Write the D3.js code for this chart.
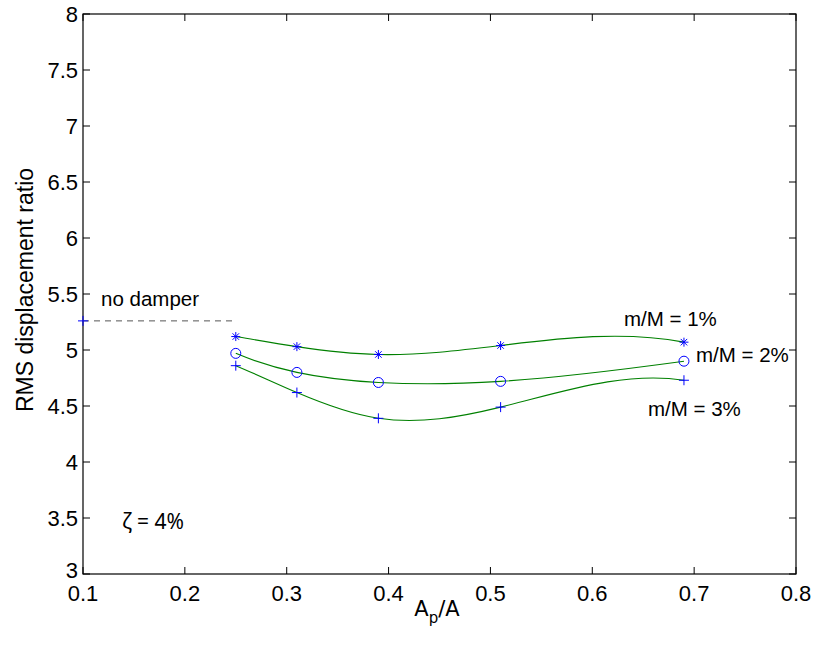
<!DOCTYPE html>
<html>
<head>
<meta charset="utf-8">
<script src="https://cdn.jsdelivr.net/npm/d3@7"></script>
<style>
  body { margin: 0; background: #fff; }
  svg { display: block; }
  text { font-family: "Liberation Sans", Arial, sans-serif; fill: #000; }
</style>
</head>
<body>
<svg id="chart" width="818" height="648"></svg>
<script>
// ratios of the plate area, where the dampers were tried
var areaRatio = [0.25, 0.31, 0.39, 0.51, 0.69];

// RMS displacement ratio for each mass ratio
var mass1 = [5.12, 5.03, 4.96, 5.04, 5.07];
var mass2 = [4.97, 4.80, 4.71, 4.72, 4.90];
var mass3 = [4.86, 4.62, 4.39, 4.49, 4.73];

// structure without damper
var noDamperX = [0.1, 0.25];
var noDamperY = 5.26;

var xTicks = [0.1, 0.2, 0.3, 0.4, 0.5, 0.6, 0.7, 0.8];
var yTicks = [3, 3.5, 4, 4.5, 5, 5.5, 6, 6.5, 7, 7.5, 8];

var series = [
    {name: 'm/M = 1%', values: mass1, marker: 'star'},
    {name: 'm/M = 2%', values: mass2, marker: 'circle'},
    {name: 'm/M = 3%', values: mass3, marker: 'plus'}
];

var box = {left: 83, top: 14, right: 796, bottom: 574},
    tickLen = 7,
    blue = '#0000ff',
    green = '#008000';

var svg = d3.select('#chart');

var x = d3.scaleLinear().domain([0.1, 0.8]).range([box.left, box.right]),
    y = d3.scaleLinear().domain([3, 8]).range([box.bottom, box.top]);

/**
 * Cubic spline with not-a-knot ends (what matlab's spline() draws),
 * written as a d3 curve factory so it emits one bezier per segment.
 */
function curveNotAKnot(context) {
    var xs, ys;
    return {
        areaStart: function() {},
        areaEnd: function() {},
        lineStart: function() { xs = []; ys = []; },
        point: function(px, py) { xs.push(+px); ys.push(+py); },
        lineEnd: function() {
            var n = xs.length;
            if(!n) return;
            context.moveTo(xs[0], ys[0]);
            if(n < 4) {
                for(var k = 1; k < n; k++) context.lineTo(xs[k], ys[k]);
                return;
            }
            var h = [], s = [], i;
            for(i = 0; i < n - 1; i++) {
                h[i] = xs[i + 1] - xs[i];
                s[i] = (ys[i + 1] - ys[i]) / h[i];
            }
            // build the system for the second derivatives
            var A = [], b = [];
            for(i = 0; i < n; i++) {
                A.push(new Array(n).fill(0));
                b.push(0);
            }
            A[0][0] = -h[1]; A[0][1] = h[0] + h[1]; A[0][2] = -h[0];
            for(i = 1; i < n - 1; i++) {
                A[i][i - 1] = h[i - 1];
                A[i][i] = 2 * (h[i - 1] + h[i]);
                A[i][i + 1] = h[i];
                b[i] = 6 * (s[i] - s[i - 1]);
            }
            A[n - 1][n - 3] = -h[n - 2];
            A[n - 1][n - 2] = h[n - 3] + h[n - 2];
            A[n - 1][n - 1] = -h[n - 3];

            var M = solve(A, b);

            for(i = 0; i < n - 1; i++) {
                var d0 = s[i] - h[i] * (2 * M[i] + M[i + 1]) / 6,
                    d1 = s[i] + h[i] * (M[i] + 2 * M[i + 1]) / 6;
                context.bezierCurveTo(
                    xs[i] + h[i] / 3, ys[i] + h[i] * d0 / 3,
                    xs[i + 1] - h[i] / 3, ys[i + 1] - h[i] * d1 / 3,
                    xs[i + 1], ys[i + 1]
                );
            }
        }
    };

    function solve(A, b) {
        var n = b.length, i, j, k;
        for(k = 0; k < n; k++) {
            var p = k;
            for(i = k + 1; i < n; i++) {
                if(Math.abs(A[i][k]) > Math.abs(A[p][k])) p = i;
            }
            var tmp = A[k]; A[k] = A[p]; A[p] = tmp;
            var tb = b[k]; b[k] = b[p]; b[p] = tb;
            for(i = k + 1; i < n; i++) {
                var f = A[i][k] / A[k][k];
                for(j = k; j < n; j++) A[i][j] -= f * A[k][j];
                b[i] -= f * b[k];
            }
        }
        var out = new Array(n);
        for(i = n - 1; i >= 0; i--) {
            var sum = b[i];
            for(j = i + 1; j < n; j++) sum -= A[i][j] * out[j];
            out[i] = sum / A[i][i];
        }
        return out;
    }
}

// axes box
svg.append('rect')
    .attr('x', box.left)
    .attr('y', box.top)
    .attr('width', box.right - box.left)
    .attr('height', box.bottom - box.top)
    .style('fill', 'none')
    .style('stroke', '#000')
    .style('stroke-width', 1.2);

// inward ticks on all four sides
var tickG = svg.append('g')
    .style('stroke', '#000')
    .style('stroke-width', 1);

xTicks.forEach(function(t) {
    tickG.append('line')
        .attr('x1', x(t)).attr('x2', x(t))
        .attr('y1', box.bottom).attr('y2', box.bottom - tickLen);
    tickG.append('line')
        .attr('x1', x(t)).attr('x2', x(t))
        .attr('y1', box.top).attr('y2', box.top + tickLen);
});
yTicks.forEach(function(t) {
    tickG.append('line')
        .attr('x1', box.left).attr('x2', box.left + tickLen)
        .attr('y1', y(t)).attr('y2', y(t));
    tickG.append('line')
        .attr('x1', box.right).attr('x2', box.right - tickLen)
        .attr('y1', y(t)).attr('y2', y(t));
});

// tick labels
svg.append('g').selectAll('text')
        .data(xTicks)
    .enter().append('text')
    .attr('x', function(d) { return x(d); })
    .attr('y', 601)
    .attr('text-anchor', 'middle')
    .style('font-size', '22px')
    .text(function(d) { return d3.format('.1f')(d); });

// the lowest y label sits a touch higher so it clears the 0.1 below it
svg.append('g').selectAll('text')
        .data(yTicks)
    .enter().append('text')
    .attr('x', box.left - 5)
    .attr('y', function(d) { return y(d) + (d === 3 ? 4 : 8); })
    .attr('text-anchor', 'end')
    .style('font-size', '22px')
    .text(function(d) { return d3.format('~g')(d); });

// axis titles
var xt = svg.append('text')
    .attr('x', 437)
    .attr('y', 616)
    .attr('text-anchor', 'middle')
    .style('font-family', '"DejaVu Sans", sans-serif')
    .style('font-size', '21px');
xt.append('tspan').text('A');
xt.append('tspan').attr('dy', 7).style('font-size', '15px').text('p');
xt.append('tspan').attr('dy', -7).text('/A');

svg.append('text')
    .attr('transform', 'translate(33,290) rotate(-90)')
    .attr('text-anchor', 'middle')
    .style('font-size', '23px')
    .text('RMS displacement ratio');

// reference level without damper
svg.append('line')
    .attr('x1', x(noDamperX[0]))
    .attr('x2', x(noDamperX[1]))
    .attr('y1', y(noDamperY))
    .attr('y2', y(noDamperY))
    .style('stroke', '#555')
    .style('stroke-width', 1)
    .style('stroke-dasharray', '6,5');

function drawMarker(g, type, cx, cy) {
    var r = 5;
    if(type === 'circle') {
        g.append('circle')
            .attr('cx', cx).attr('cy', cy).attr('r', 5)
            .style('fill', 'none')
            .style('stroke', blue)
            .style('stroke-width', 1);
        return;
    }
    var segs = [[-r, 0, r, 0], [0, -r, 0, r]];
    if(type === 'star') {
        r = 4.5;
        var q = r * 0.72;
        segs = [[-r, 0, r, 0], [0, -r, 0, r], [-q, -q, q, q], [-q, q, q, -q]];
    }
    segs.forEach(function(sg) {
        g.append('line')
            .attr('x1', cx + sg[0]).attr('y1', cy + sg[1])
            .attr('x2', cx + sg[2]).attr('y2', cy + sg[3])
            .style('stroke', blue)
            .style('stroke-width', 1);
    });
}

drawMarker(svg.append('g'), 'plus', x(noDamperX[0]), y(noDamperY));

svg.append('text')
    .attr('x', 101)
    .attr('y', 306)
    .style('font-size', '20.5px')
    .text('no damper');

// spline through each series
var line = d3.line()
    .x(function(d, i) { return x(areaRatio[i]); })
    .y(function(d) { return y(d); })
    .curve(curveNotAKnot);

series.forEach(function(sr) {
    svg.append('path')
        .attr('d', line(sr.values))
        .style('fill', 'none')
        .style('stroke', green)
        .style('stroke-width', 1.1);
});

series.forEach(function(sr) {
    var g = svg.append('g');
    sr.values.forEach(function(v, i) {
        drawMarker(g, sr.marker, x(areaRatio[i]), y(v));
    });
});

// series labels
var labelPos = [[624, 326], [696, 362], [648, 416]];
series.forEach(function(sr, i) {
    svg.append('text')
        .attr('x', labelPos[i][0])
        .attr('y', labelPos[i][1])
        .style('font-size', '20.5px')
        .text(sr.name);
});

svg.append('text')
    .attr('x', 122)
    .attr('y', 529)
    .style('font-family', '"Noto Sans", sans-serif')
    .style('font-size', '21px')
    .text('ζ = 4%');
</script>
</body>
</html>
